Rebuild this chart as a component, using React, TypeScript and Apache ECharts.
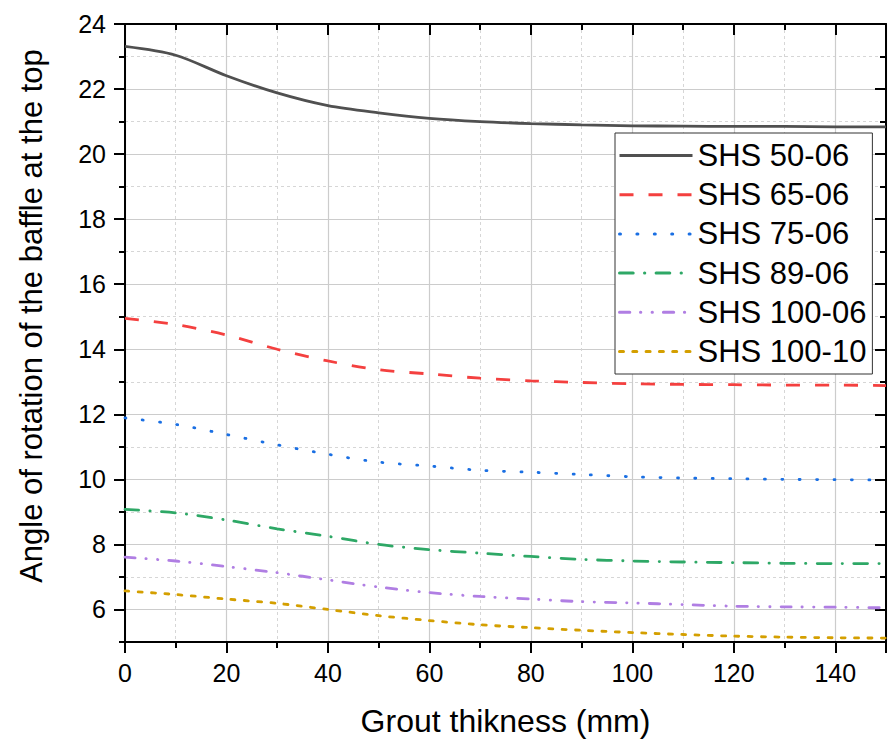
import React, { useEffect, useRef } from 'react';
import * as echarts from 'echarts';

const xValues = [0, 10, 20, 30, 40, 50, 60, 70, 80, 90, 100, 110, 120, 130, 140, 150];
const seriesNames = ['SHS 50-06', 'SHS 65-06', 'SHS 75-06', 'SHS 89-06', 'SHS 100-06', 'SHS 100-10'];
const shs50_06 = [23.31, 23.04, 22.41, 21.88, 21.49, 21.27, 21.1, 21.0, 20.94, 20.9, 20.87, 20.86, 20.85, 20.85, 20.84, 20.84];
const shs65_06 = [14.95, 14.76, 14.44, 14.0, 13.64, 13.37, 13.24, 13.11, 13.03, 12.98, 12.94, 12.92, 12.91, 12.9, 12.9, 12.88];
const shs75_06 = [11.89, 11.69, 11.38, 11.06, 10.77, 10.53, 10.41, 10.28, 10.22, 10.15, 10.08, 10.04, 10.02, 10.0, 9.99, 9.98];
const shs89_06 = [9.08, 8.97, 8.75, 8.48, 8.25, 8.0, 7.84, 7.73, 7.63, 7.54, 7.49, 7.46, 7.44, 7.42, 7.41, 7.41];
const shs100_06 = [7.61, 7.49, 7.32, 7.13, 6.91, 6.69, 6.52, 6.4, 6.32, 6.24, 6.2, 6.15, 6.1, 6.08, 6.07, 6.05];
const shs100_10 = [6.57, 6.46, 6.32, 6.19, 6.0, 5.81, 5.66, 5.53, 5.44, 5.36, 5.29, 5.23, 5.18, 5.15, 5.13, 5.12];
const yMajorTicks = [6, 8, 10, 12, 14, 16, 18, 20, 22, 24];

const seriesValues = [shs50_06, shs65_06, shs75_06, shs89_06, shs100_06, shs100_10];
const seriesColors = ['#505050', '#f4403f', '#1a6fe3', '#2ea866', '#b07ee3', '#d49f00'];
const seriesDash: any[] = [
  'solid',
  [14, 15],
  [1, 16.4],
  [13.7, 11.3, 0.3, 11.3],
  [10.3, 10.7, 0.3, 11.3, 0.3, 11],
  [4, 9.3],
];
const seriesCap = ['butt', 'butt', 'round', 'round', 'round', 'round'];

const FONT = "'Liberation Sans', Arial, sans-serif";

export default function App() {
  const ref = useRef<HTMLDivElement>(null);
  useEffect(() => {
    if (!ref.current) return;
    const chart = echarts.init(ref.current, null, { renderer: 'svg' });
    const axisLine = { show: true, onZero: false, lineStyle: { color: '#000', width: 2 } };
    const hiddenLine = { show: false, onZero: false };
    const option: any = {
      animation: false,
      backgroundColor: '#fff',
      textStyle: { fontFamily: FONT },
      grid: { left: 125, top: 24, right: -5, bottom: 100, containLabel: false },
      xAxis: [
        {
          type: 'value', position: 'bottom', min: 0, max: 150, interval: 10,
          axisLine: hiddenLine,
          axisTick: { show: true, length: 6, lineStyle: { color: '#000', width: 2 } },
          axisLabel: { show: false },
          splitLine: { show: true, lineStyle: { color: '#d6d6d6', width: 1, type: [3, 3] } },
        },
        {
          type: 'value', position: 'bottom', min: 0, max: 150, interval: 20,
          axisLine,
          axisTick: { show: true, length: 11, lineStyle: { color: '#000', width: 2 } },
          axisLabel: {
            show: true, fontSize: 25, color: '#000', fontFamily: FONT, margin: 18,
            formatter: (v: number) => (v % 20 === 0 && v <= 140 ? String(v) : ''),
          },
          splitLine: { show: true, lineStyle: { color: '#cccccc', width: 1.2 } },
          name: 'Grout thikness (mm)',
          nameLocation: 'middle',
          nameGap: 63,
          nameTextStyle: { fontSize: 32, color: '#000', fontFamily: FONT },
        },
        {
          type: 'value', position: 'top', min: 0, max: 150, interval: 10,
          axisLine: hiddenLine,
          axisTick: { show: true, inside: true, length: 6, lineStyle: { color: '#000', width: 2 } },
          axisLabel: { show: false },
          splitLine: { show: false },
        },
        {
          type: 'value', position: 'top', min: 0, max: 150, interval: 20,
          axisLine,
          axisTick: { show: true, inside: true, length: 11, lineStyle: { color: '#000', width: 2 } },
          axisLabel: { show: false },
          splitLine: { show: false },
        },
      ],
      yAxis: [
        {
          type: 'value', position: 'left', min: 5, max: 24, interval: 1,
          axisLine: hiddenLine,
          axisTick: { show: true, length: 6, lineStyle: { color: '#000', width: 2 } },
          axisLabel: { show: false },
          splitLine: { show: true, lineStyle: { color: '#d6d6d6', width: 1, type: [3, 3] } },
        },
        {
          type: 'value', position: 'left', min: 5, max: 24,
          axisLine,
          axisTick: { show: true, length: 11, customValues: yMajorTicks, lineStyle: { color: '#000', width: 2 } },
          axisLabel: { show: true, customValues: yMajorTicks, fontSize: 25, color: '#000', fontFamily: FONT, margin: 19 },
          splitLine: { show: true, lineStyle: { color: '#cccccc', width: 1.2 } },
          name: 'Angle of rotation of the baffle at the top',
          nameLocation: 'middle',
          nameGap: 78,
          nameTextStyle: { fontSize: 31, color: '#000', fontFamily: FONT, padding: [0, 0, 0, 34] },
        },
        {
          type: 'value', position: 'right', min: 5, max: 24, interval: 1,
          axisLine: hiddenLine,
          axisTick: { show: true, inside: true, length: 6, lineStyle: { color: '#000', width: 2 } },
          axisLabel: { show: false },
          splitLine: { show: false },
        },
        {
          type: 'value', position: 'right', min: 5, max: 24,
          axisLine,
          axisTick: { show: true, inside: true, length: 11, customValues: yMajorTicks, lineStyle: { color: '#000', width: 2 } },
          axisLabel: { show: false },
          splitLine: { show: false },
        },
      ],
      legend: {
        show: true,
        orient: 'vertical',
        left: 615,
        top: 133,
        padding: [7, 6, 7, 3],
        itemWidth: 73,
        itemHeight: 30,
        itemGap: 8.2,
        backgroundColor: '#fff',
        borderColor: '#333',
        borderWidth: 1,
        itemStyle: { opacity: 0 },
        lineStyle: { width: 3 },
        textStyle: { fontSize: 31, color: '#000', fontFamily: FONT },
        data: seriesNames,
      },
      series: seriesNames.map((name, i) => ({
        name,
        type: 'line',
        xAxisIndex: 1,
        yAxisIndex: 1,
        data: xValues.map((x, j) => [x, seriesValues[i][j]]),
        smooth: 0.3,
        showSymbol: false,
        symbol: 'none',
        color: seriesColors[i],
        lineStyle: { color: seriesColors[i], width: 2.8, type: seriesDash[i], cap: seriesCap[i] },
        z: 3,
      })),
    };
    chart.setOption(option);
    return () => chart.dispose();
  }, []);
  return (
    <div
      ref={ref}
      style={{ position: 'absolute', left: 0, top: 0, width: 889, height: 742, background: '#fff' }}
    />
  );
}
